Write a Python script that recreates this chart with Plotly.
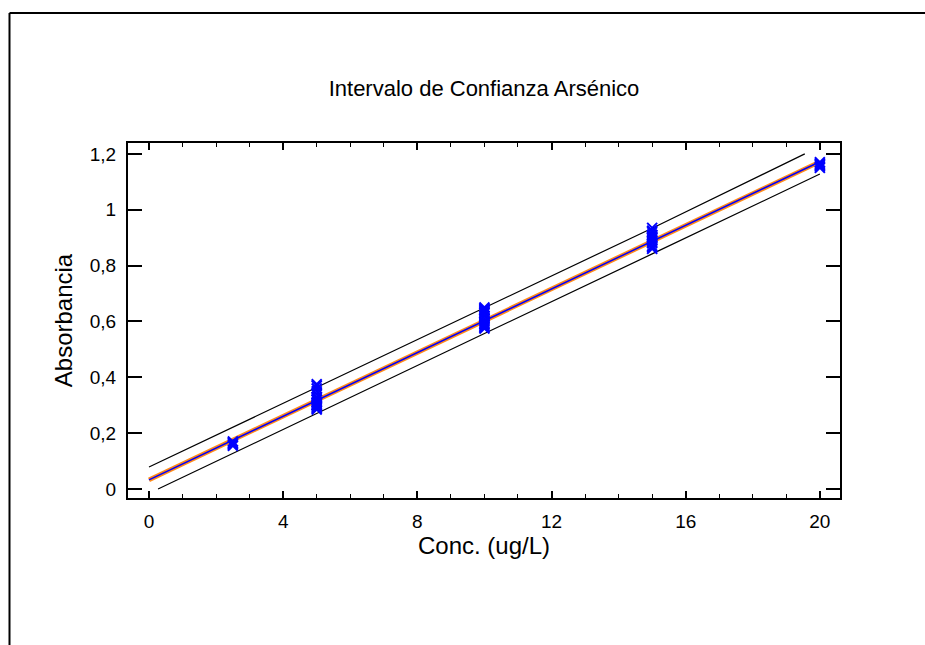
import plotly.graph_objects as go

# ---- data ----
x_2_5 = [2.5, 2.5, 2.5, 2.5]
y_2_5 = [0.165, 0.16, 0.155, 0.17]
x_5 = [5] * 16
y_5 = [0.375, 0.37, 0.36, 0.35, 0.34, 0.33, 0.325, 0.32, 0.31, 0.305,
       0.30, 0.295, 0.29, 0.285, 0.30, 0.31]
x_10 = [10] * 16
y_10 = [0.65, 0.645, 0.64, 0.635, 0.63, 0.62, 0.61, 0.60, 0.595, 0.59,
        0.585, 0.58, 0.575, 0.62, 0.63, 0.64]
x_15 = [15] * 14
y_15 = [0.935, 0.925, 0.92, 0.91, 0.905, 0.90, 0.89, 0.885, 0.88, 0.87,
        0.865, 0.86, 0.90, 0.91]
x_20 = [20] * 5
y_20 = [1.17, 1.165, 1.16, 1.155, 1.15]

fit_x = [0, 20]
fit_y = [0.033, 1.172]

upper_x = [0, 5, 10, 15, 19.55]
upper_y = [0.079, 0.364, 0.649, 0.934, 1.20]
lower_x = [0.27, 5, 10, 15, 20]
lower_y = [0.0, 0.272, 0.557, 0.842, 1.128]

title_text = "Intervalo de Confianza Arsénico"
x_title = "Conc. (ug/L)"
y_title = "Absorbancia"
x_ticks = [0, 4, 8, 12, 16, 20]
y_ticks = [0, 0.2, 0.4, 0.6, 0.8, 1.0, 1.2]
y_ticklabels = ["0", "0,2", "0,4", "0,6", "0,8", "1", "1,2"]

FONT = "Liberation Sans, Arial, sans-serif"

fig = go.Figure()
fig.add_trace(go.Scatter(x=upper_x, y=upper_y, mode="lines",
                         line=dict(color="black", width=1.2), showlegend=False))
fig.add_trace(go.Scatter(x=lower_x, y=lower_y, mode="lines",
                         line=dict(color="black", width=1.2), showlegend=False))
fig.add_trace(go.Scatter(x=fit_x, y=fit_y, mode="lines",
                         line=dict(color="#ff8c1a", width=4.5), showlegend=False))
fig.add_trace(go.Scatter(x=fit_x, y=fit_y, mode="lines",
                         line=dict(color="#0000ff", width=1.5), showlegend=False))

all_x = x_2_5 + x_5 + x_10 + x_15 + x_20
all_y = y_2_5 + y_5 + y_10 + y_15 + y_20
fig.add_trace(go.Scatter(x=all_x, y=all_y, mode="markers",
                         marker=dict(symbol="x-thin", size=10,
                                     line=dict(color="#0000ff", width=2)),
                         showlegend=False))

# plot area: px 128..840 horizontally, 143..498 vertically
L, R, T, B = 128, 85, 143, 147
W, H = 925, 645
pw = W - L - R
ph = H - T - B

def px2x(px):
    return (px - L) / pw

def py2y(py):
    return (H - B - py) / ph

# outer frame (top and left border)
fig.add_shape(type="line", xref="paper", yref="paper",
              x0=px2x(9.5), x1=px2x(940), y0=py2y(13), y1=py2y(13),
              line=dict(color="black", width=2))
fig.add_shape(type="line", xref="paper", yref="paper",
              x0=px2x(9.5), x1=px2x(9.5), y0=py2y(13), y1=py2y(660),
              line=dict(color="black", width=2))

fig.update_layout(
    width=W, height=H,
    margin=dict(l=L, r=R, t=T, b=B, autoexpand=False),
    paper_bgcolor="white", plot_bgcolor="white",
    font=dict(family=FONT, size=19, color="black"),
    title=dict(text=title_text, x=(L + pw / 2) / W, xanchor="center",
               y=1 - 88 / H, yanchor="middle", yref="container",
               font=dict(family=FONT, size=22, color="black")),
    separators=",.",
)
fig.update_xaxes(
    range=[-0.626, 20.6], showgrid=False, zeroline=False,
    showline=True, linecolor="black", linewidth=2, mirror="ticks",
    ticks="inside", ticklen=7, tickwidth=1.5, tickcolor="black",
    tickvals=x_ticks, ticklabelstandoff=5,
    tickfont=dict(family=FONT, size=19),
    minor=dict(dtick=1, tick0=0, ticks="inside", ticklen=4, tickwidth=1, tickcolor="black"),
    title=dict(text=x_title, standoff=0, font=dict(family=FONT, size=24)),
    automargin=False,
)
fig.update_yaxes(
    range=[-0.032, 1.239], showgrid=False, zeroline=False,
    showline=True, linecolor="black", linewidth=2, mirror="ticks",
    ticks="inside", ticklen=14, tickwidth=2, tickcolor="black",
    tickvals=y_ticks, ticktext=y_ticklabels, ticklabelstandoff=6,
    tickfont=dict(family=FONT, size=19),
    title=dict(text=y_title, standoff=10, font=dict(family=FONT, size=24)),
    automargin=False,
)

fig.write_html("out.html", config={"displayModeBar": False},
               post_script="document.body.style.margin='0';")
